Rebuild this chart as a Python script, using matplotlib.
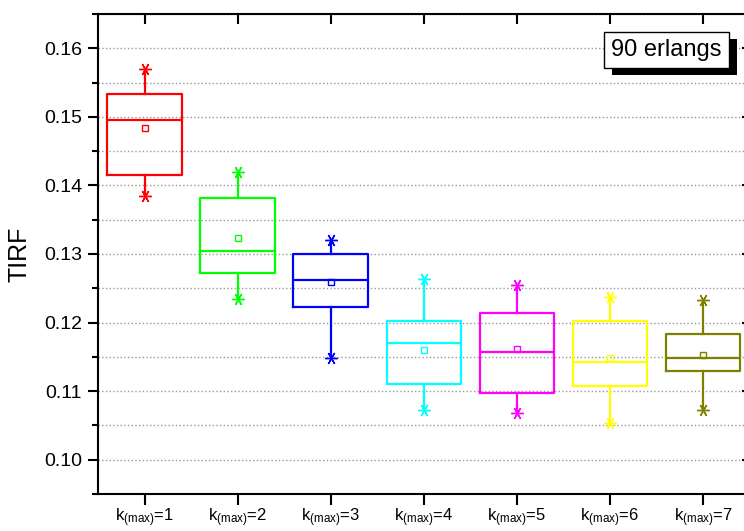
import numpy as np
import matplotlib
matplotlib.use('Agg')
import matplotlib.pyplot as plt
import matplotlib.patheffects as pe
from matplotlib.ticker import MultipleLocator, FormatStrFormatter

plt.rcParams['font.family'] = ['Liberation Sans', 'DejaVu Sans']
plt.rcParams['mathtext.fontset'] = 'custom'
plt.rcParams['mathtext.rm'] = 'Liberation Sans'
plt.rcParams['mathtext.it'] = 'Liberation Sans'

# Box statistics (k_max = 1..7)
k_values = [1, 2, 3, 4, 5, 6, 7]
minimum = [0.1384, 0.1235, 0.1149, 0.1072, 0.1068, 0.1053, 0.1073]
q1 = [0.1415, 0.1273, 0.1222, 0.1111, 0.1098, 0.1107, 0.1130]
median = [0.1495, 0.1305, 0.1262, 0.1170, 0.1157, 0.1143, 0.1148]
mean = [0.1484, 0.1323, 0.1259, 0.1160, 0.1161, 0.1149, 0.1152]
q3 = [0.1534, 0.1382, 0.1300, 0.1202, 0.1214, 0.1203, 0.1184]
maximum = [0.1570, 0.1419, 0.1320, 0.1264, 0.1255, 0.1237, 0.1233]
colors = ['#FF0000', '#00FF00', '#0000FF', '#00FFFF', '#FF00FF', '#FFFF00', '#808000']
tick_labels = [r'k$_{\mathrm{(max)}}$=%d' % k for k in k_values]

fig = plt.figure(figsize=(7.44, 5.31), dpi=100)
ax = fig.add_axes([98 / 744, 37 / 531, (749.5 - 98) / 744, 480 / 531])

stats = []
for i in range(len(k_values)):
    stats.append(dict(med=median[i], q1=q1[i], q3=q3[i], whislo=minimum[i],
                      whishi=maximum[i], mean=mean[i], fliers=[]))

res = ax.bxp(stats, positions=k_values, widths=0.8, showmeans=True,
             showcaps=False, showfliers=False, patch_artist=False)

for i, c in enumerate(colors):
    res['boxes'][i].set(color=c, linewidth=1.6)
    res['medians'][i].set(color=c, linewidth=1.6)
    res['whiskers'][2 * i].set(color=c, linewidth=1.6)
    res['whiskers'][2 * i + 1].set(color=c, linewidth=1.6)
    res['means'][i].set(marker='s', markerfacecolor='none', markeredgecolor=c,
                        markersize=5, markeredgewidth=1.0)
    ax.plot([k_values[i], k_values[i]], [minimum[i], maximum[i]], linestyle='none',
            marker=(6, 2, 30), markersize=9, markeredgewidth=1.0, color=c, zorder=4)

ax.set_xlim(0.5, 7.5)
ax.set_ylim(0.095, 0.165)
ax.set_xticks(k_values)
ax.set_xticklabels(tick_labels, fontsize=12)
ax.yaxis.set_major_locator(MultipleLocator(0.01))
ax.yaxis.set_minor_locator(MultipleLocator(0.005))
ax.yaxis.set_major_formatter(FormatStrFormatter('%.2f'))
ax.tick_params(axis='y', which='major', labelsize=14, length=7.5, width=1.5,
               direction='out', pad=4)
ax.tick_params(axis='y', which='minor', length=4, width=1.5, direction='out')
ax.tick_params(axis='x', which='major', length=8, width=1.5, direction='out', pad=1)
ax.tick_params(axis='y', which='both', right=True)
ax.tick_params(axis='x', top=True)

# top and right ticks point inward, as in the Origin style
for t in ax.xaxis.get_major_ticks():
    t.tick2line.set_marker(3)
    t.tick2line.set_markersize(7)
for t in ax.yaxis.get_major_ticks():
    t.tick2line.set_marker(0)
    t.tick2line.set_markersize(6)
for t in ax.yaxis.get_minor_ticks():
    t.tick2line.set_visible(False)

for s in ax.spines.values():
    s.set_linewidth(1.5)

ax.grid(True, axis='y', which='both', linestyle=':', color='#999999', linewidth=1.0)
ax.set_axisbelow(True)

ax.set_ylabel('TIRF', fontsize=18, labelpad=9)

txt = ax.text(0.8725, 0.925, '90 erlangs', transform=ax.transAxes, fontsize=17,
              ha='center', va='center',
              bbox=dict(boxstyle='square,pad=0.3', facecolor='white',
                        edgecolor='black', linewidth=1.0))
txt.get_bbox_patch().set_path_effects([
    pe.SimplePatchShadow(offset=(6, -5), shadow_rgbFace='black', alpha=1.0),
    pe.Normal()])

fig.savefig('out.png', dpi=100)
